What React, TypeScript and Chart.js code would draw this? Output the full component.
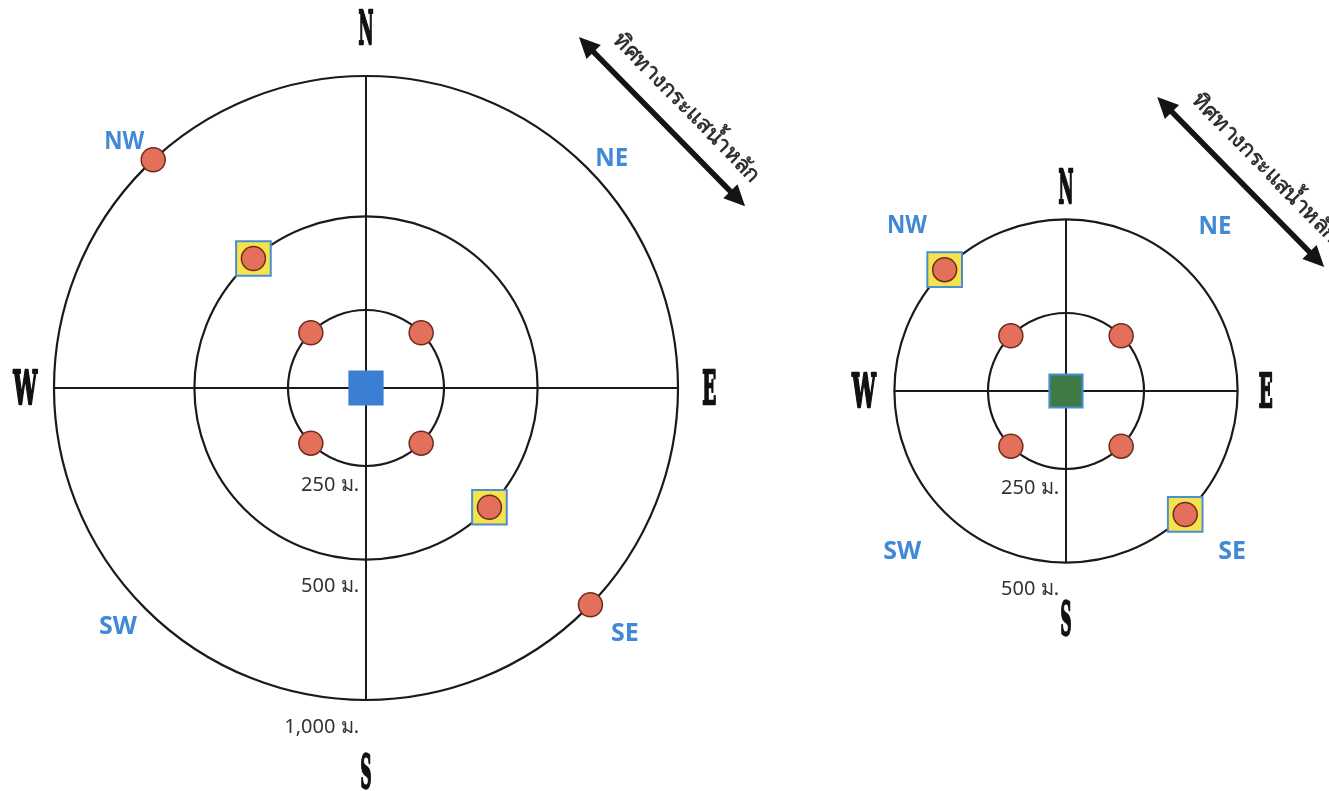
import React, { useEffect, useRef } from "react";
import { Chart, registerables } from "chart.js";
Chart.register(...registerables);

// ---------- DATA ----------
// Left diagram: distance rings (label) and their schematic radius (ring units)
const leftRingLabels = ["250 ม.", "500 ม.", "1,000 ม."];
const leftRingRadii = [1, 2.2, 4.0];
// Sampling stations: ring index + bearing (degrees clockwise from north)
const leftStationRing = [0, 0, 0, 0, 1, 1, 2, 2];
const leftStationBearing = [315, 45, 225, 135, 319, 134, 317, 134];
const leftHighlighted = [4, 5];

// Right diagram
const rightRingLabels = ["250 ม.", "500 ม."];
const rightRingRadii = [1, 2.2];
const rightStationRing = [0, 0, 0, 0, 1, 1];
const rightStationBearing = [315, 45, 225, 135, 315, 136];
const rightHighlighted = [4, 5];

const cardinalLabels = ["N", "E", "S", "W"];
const intercardinalLabels = ["NE", "SE", "SW", "NW"];
const flowLabel = "ทิศทางกระแสน้ำหลัก";

// ---------- LAYOUT / STYLE ----------
const H = 791;
const PPU = 78; // pixels per ring unit

const leftLayout = {
  id: "left",
  left: 0,
  width: 780,
  center: [366, 388],
  ringLabels: leftRingLabels,
  ringRadii: leftRingRadii,
  ringLabelGap: [19, 27, 27],
  cardinalPos: { N: [0, 4.62], E: [4.4, 0], S: [0, -4.92], W: [-4.37, 0] },
  cardinalWidth: { N: 17, E: 16, S: 13, W: 26 },
  interPos: { NE: [3.15, 2.96], SE: [3.32, -3.13], SW: [-3.18, -3.04], NW: [-3.1, 3.18] },
  interWidth: { NE: 33, SE: 32, SW: 40, NW: 40 },
  arrow: [[2.73, 4.5], [4.86, 2.33]],
  centerFill: "#3a7fd3",
  centerBorder: "#3a7fd3",
};

const rightLayout = {
  id: "right",
  left: 780,
  width: 549,
  center: [286, 391],
  ringLabels: rightRingLabels,
  ringRadii: rightRingRadii,
  ringLabelGap: [19, 27],
  cardinalPos: { N: [0, 2.62], E: [2.56, 0], S: [0, -2.92], W: [-2.59, 0] },
  cardinalWidth: { N: 17, E: 16, S: 13, W: 26 },
  interPos: { NE: [1.91, 2.13], SE: [2.13, -2.04], SW: [-2.1, -2.04], NW: [-2.04, 2.14] },
  interWidth: { NE: 33, SE: 32, SW: 40, NW: 40 },
  arrow: [[1.17, 3.77], [3.31, 1.59]],
  centerFill: "#3e7a45",
  centerBorder: "#4a8ed6",
};

function toXY(radii: number[], rings: number[], bearings: number[]) {
  return bearings.map((b, i) => {
    const r = radii[rings[i]];
    const a = (b * Math.PI) / 180;
    return { x: r * Math.sin(a), y: r * Math.cos(a) };
  });
}

function makePlugin(L: any) {
  return {
    id: "compass_" + L.id,
    beforeDatasetsDraw(chart: any) {
      const xs = chart.scales.x;
      const ys = chart.scales.y;
      const px = (u: number) => xs.getPixelForValue(u);
      const py = (v: number) => ys.getPixelForValue(v);
      const ctx = chart.ctx as CanvasRenderingContext2D;
      const cx = px(0);
      const cy = py(0);
      const unit = px(1) - cx;
      const R = Math.max(...L.ringRadii);
      ctx.save();
      // rings
      ctx.strokeStyle = "#1a1a1a";
      ctx.lineWidth = 2.2;
      L.ringRadii.forEach((r: number) => {
        ctx.beginPath();
        ctx.arc(cx, cy, r * unit, 0, Math.PI * 2);
        ctx.stroke();
      });
      // cross axes
      ctx.lineWidth = 2;
      ctx.beginPath();
      ctx.moveTo(px(-R), cy);
      ctx.lineTo(px(R), cy);
      ctx.moveTo(cx, py(R));
      ctx.lineTo(cx, py(-R));
      ctx.stroke();

      // ring distance labels
      ctx.fillStyle = "#333333";
      ctx.font = '20px "Noto Sans", "DejaVu Sans", sans-serif';
      ctx.textAlign = "right";
      ctx.textBaseline = "middle";
      L.ringLabels.forEach((t: string, i: number) => {
        const yb = py(-L.ringRadii[i]) + L.ringLabelGap[i];
        ctx.fillText(t, cx - 7, yb);
      });

      // cardinal labels (heavy condensed serif)
      ctx.fillStyle = "#111111";
      ctx.strokeStyle = "#111111";
      ctx.lineWidth = 2.4;
      ctx.lineJoin = "round";
      ctx.font = 'bold 46px "DejaVu Serif", "Liberation Serif", serif';
      ctx.textAlign = "center";
      ctx.textBaseline = "alphabetic";
      cardinalLabels.forEach((t) => {
        const p = L.cardinalPos[t];
        const w = L.cardinalWidth[t] - 2;
        ctx.fillText(t, px(p[0]), py(p[1]) + 16, w);
        ctx.strokeText(t, px(p[0]), py(p[1]) + 16, w);
      });

      // intercardinal labels
      ctx.fillStyle = "#4189d6";
      ctx.font = 'bold 25px "Open Sans", "DejaVu Sans", sans-serif';
      intercardinalLabels.forEach((t) => {
        const p = L.interPos[t];
        ctx.fillText(t, px(p[0]), py(p[1]) + 9, L.interWidth[t]);
      });

      // flow arrow
      const [a, b] = L.arrow;
      const x1 = px(a[0]), y1 = py(a[1]), x2 = px(b[0]), y2 = py(b[1]);
      const ang = Math.atan2(y2 - y1, x2 - x1);
      const len = Math.hypot(x2 - x1, y2 - y1);
      ctx.translate(x1, y1);
      ctx.rotate(ang);
      ctx.fillStyle = "#141414";
      ctx.strokeStyle = "#141414";
      ctx.lineWidth = 5.5;
      const head = 21, hw = 10;
      ctx.beginPath();
      ctx.moveTo(head - 2, 0);
      ctx.lineTo(len - head + 2, 0);
      ctx.stroke();
      ctx.beginPath();
      ctx.moveTo(0, 0);
      ctx.lineTo(head, -hw);
      ctx.lineTo(head, hw);
      ctx.closePath();
      ctx.fill();
      ctx.beginPath();
      ctx.moveTo(len, 0);
      ctx.lineTo(len - head, -hw);
      ctx.lineTo(len - head, hw);
      ctx.closePath();
      ctx.fill();
      ctx.fillStyle = "#2b2b2b";
      ctx.strokeStyle = "#2b2b2b";
      ctx.lineWidth = 0.6;
      ctx.font = '22px "Noto Sans", "DejaVu Sans", sans-serif';
      ctx.textAlign = "center";
      ctx.textBaseline = "middle";
      ctx.fillText(flowLabel, len / 2 + 7, -27);
      ctx.strokeText(flowLabel, len / 2 + 7, -27);
      ctx.restore();
    },
  };
}

function Diagram({ L, radii, rings, bearings, highlighted }: any) {
  const ref = useRef<HTMLCanvasElement>(null);
  useEffect(() => {
    if (!ref.current) return;
    const stations = toXY(radii, rings, bearings);
    const squares = highlighted.map((i: number) => stations[i]);
    const chart = new Chart(ref.current, {
      type: "scatter",
      data: {
        datasets: [
          {
            label: "stations",
            data: stations,
            order: 0,
            pointStyle: "circle",
            pointRadius: 12,
            backgroundColor: "#e3705b",
            borderColor: "#6e2d20",
            borderWidth: 1.5,
            clip: false,
          },
          {
            label: "highlight",
            data: squares,
            order: 1,
            pointStyle: "rect",
            pointRadius: 24.5,
            backgroundColor: "#f6e24a",
            borderColor: "#4a8ed6",
            borderWidth: 2,
            clip: false,
          },
          {
            label: "source",
            data: [{ x: 0, y: 0 }],
            order: 2,
            pointStyle: "rect",
            pointRadius: 23.5,
            backgroundColor: L.centerFill,
            borderColor: L.centerBorder,
            borderWidth: 2,
            clip: false,
          },
        ],
      },
      options: {
        animation: false,
        responsive: false,
        devicePixelRatio: 1,
        events: [],
        layout: { padding: 0, autoPadding: false },
        plugins: { legend: { display: false }, tooltip: { enabled: false } },
        scales: {
          x: { type: "linear", display: false, min: -L.center[0] / PPU, max: (L.width - L.center[0]) / PPU },
          y: { type: "linear", display: false, min: -(H - L.center[1]) / PPU, max: L.center[1] / PPU },
        },
      },
      plugins: [makePlugin(L)],
    } as any);
    return () => chart.destroy();
  }, []);
  return (
    <canvas
      ref={ref}
      width={L.width}
      height={H}
      style={{ position: "absolute", left: L.left, top: 0, width: L.width, height: H }}
    />
  );
}

export default function App() {
  return (
    <div style={{ position: "fixed", left: 0, top: 0, width: 1329, height: H, background: "#fff", overflow: "hidden" }}>
      <Diagram L={leftLayout} radii={leftRingRadii} rings={leftStationRing} bearings={leftStationBearing} highlighted={leftHighlighted} />
      <Diagram L={rightLayout} radii={rightRingRadii} rings={rightStationRing} bearings={rightStationBearing} highlighted={rightHighlighted} />
    </div>
  );
}
